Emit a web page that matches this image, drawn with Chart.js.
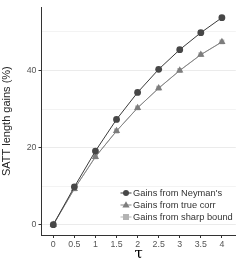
<!DOCTYPE html>
<html>
<head>
<meta charset="utf-8">
<script src="https://cdn.jsdelivr.net/npm/chart.js@4/dist/chart.umd.min.js"></script>
<style>
  html, body { margin:0; padding:0; background:#fff; }
  #wrap { position:relative; width:240px; height:262px; }
  #legend { position:absolute; left:120px; top:187px; font-family:"Liberation Sans", Arial, sans-serif; font-size:9.3px; color:#333; }
  .row { height:12px; line-height:12px; display:flex; align-items:center; white-space:nowrap; }
  .row svg { width:12px; height:12px; margin-right:0px; flex:none; }
</style>
</head>
<body>
<div id="wrap">
  <canvas id="c" width="240" height="262"></canvas>
  <div id="legend"></div>
</div>
<script>
const tau = [0, 0.5, 1, 1.5, 2, 2.5, 3, 3.5, 4];
const neyman = [0, 9.8, 19.1, 27.3, 34.3, 40.3, 45.4, 49.8, 53.7];
const trueCorr = [0, 9.3, 17.6, 24.3, 30.3, 35.4, 40.0, 44.1, 47.4];
const sharpBound = [0, 9.3, 17.6, 24.3, 30.3, 35.4, 40.0, 44.1, 47.4];
const seriesNames = ["Gains from Neyman's", "Gains from true corr", "Gains from sharp bound"];
const xTicks = [0, 0.5, 1, 1.5, 2, 2.5, 3, 3.5, 4];
const yTicks = [0, 10, 20, 30, 40, 50];

const styles = [
  {color:'#474747', line:'#3a3a3a', shape:'circle', r:3.4, order:1},
  {color:'#7d7d7d', line:'#858585', shape:'triangle', r:4.2, order:2},
  {color:'#b3b3b3', line:'#b3b3b3', shape:'rect', r:3.4, order:3}
];
const series = [neyman, trueCorr, sharpBound];

const datasets = series.map((vals, i) => ({
  label: seriesNames[i],
  data: tau.map((t, j) => ({x: t, y: vals[j]})),
  borderColor: styles[i].line,
  backgroundColor: styles[i].color,
  pointBackgroundColor: styles[i].color,
  pointBorderColor: styles[i].color,
  pointStyle: styles[i].shape,
  pointRadius: styles[i].r,
  pointBorderWidth: 0,
  borderWidth: 1,
  order: styles[i].order,
  tension: 0
}));

const font = "'Liberation Sans', Arial, sans-serif";

new Chart(document.getElementById('c'), {
  type: 'line',
  data: { datasets },
  options: {
    responsive: false,
    animation: false,
    devicePixelRatio: 1,
    layout: { padding: { left: 0, right: 4, top: 4, bottom: 0 } },
    plugins: { legend: { display: false }, tooltip: { enabled: false } },
    scales: {
      x: {
        type: 'linear',
        min: -0.28, max: 4.33,
        afterBuildTicks: s => { s.ticks = xTicks.map(v => ({value: v})); },
        afterFit: s => { s.height = 27; },
        ticks: { color:'#555', font:{family:font, size:8.8}, padding:1, maxRotation:0, autoSkip:false,
                 callback: v => String(v) },
        grid: { drawOnChartArea:false, drawTicks:true, tickLength:3, tickColor:'#333' },
        border: { display:true, color:'#333', width:1 },
        title: { display:true, text:'τ', color:'#000', font:{family:"'DejaVu Serif', serif", size:15}, padding:{top:0, bottom:-1} }
      },
      y: {
        type: 'linear',
        min: -2.69, max: 56.4,
        afterBuildTicks: s => { s.ticks = yTicks.map(v => ({value: v})); },
        afterFit: s => { s.width = 41.5; },
        ticks: { color:'#555', font:{family:font, size:8.8}, padding:2,
                 callback: v => (v % 20 === 0 ? String(v) : '') },
        grid: {
          color: c => (c.tick && c.tick.value % 20 === 0) ? '#ebebeb' : '#f3f3f3',
          lineWidth: 1,
          tickLength: 3,
          tickColor: c => (c.tick && c.tick.value % 20 === 0) ? '#333' : 'rgba(0,0,0,0)'
        },
        border: { display:true, color:'#333', width:1 },
        title: { display:true, text:'SATT length gains (%)', color:'#222', font:{family:font, size:11}, padding:{top:0, bottom:4} }
      }
    }
  }
});

// legend
const lg = document.getElementById('legend');
series.forEach((_, i) => {
  const st = styles[i];
  let shape = '';
  if (st.shape === 'circle') shape = `<circle cx="6" cy="6" r="3" fill="${st.color}"/>`;
  else if (st.shape === 'triangle') shape = `<polygon points="6,2.2 9.6,8.4 2.4,8.4" fill="${st.color}"/>`;
  else shape = `<rect x="3" y="3" width="6" height="6" fill="${st.color}"/>`;
  const row = document.createElement('div');
  row.className = 'row';
  row.innerHTML = `<svg viewBox="0 0 12 12"><line x1="0.5" y1="6" x2="11.5" y2="6" stroke="${st.line}" stroke-width="1"/>${shape}</svg><span style="margin-left:1px">${seriesNames[i]}</span>`;
  lg.appendChild(row);
});
</script>
</body>
</html>
